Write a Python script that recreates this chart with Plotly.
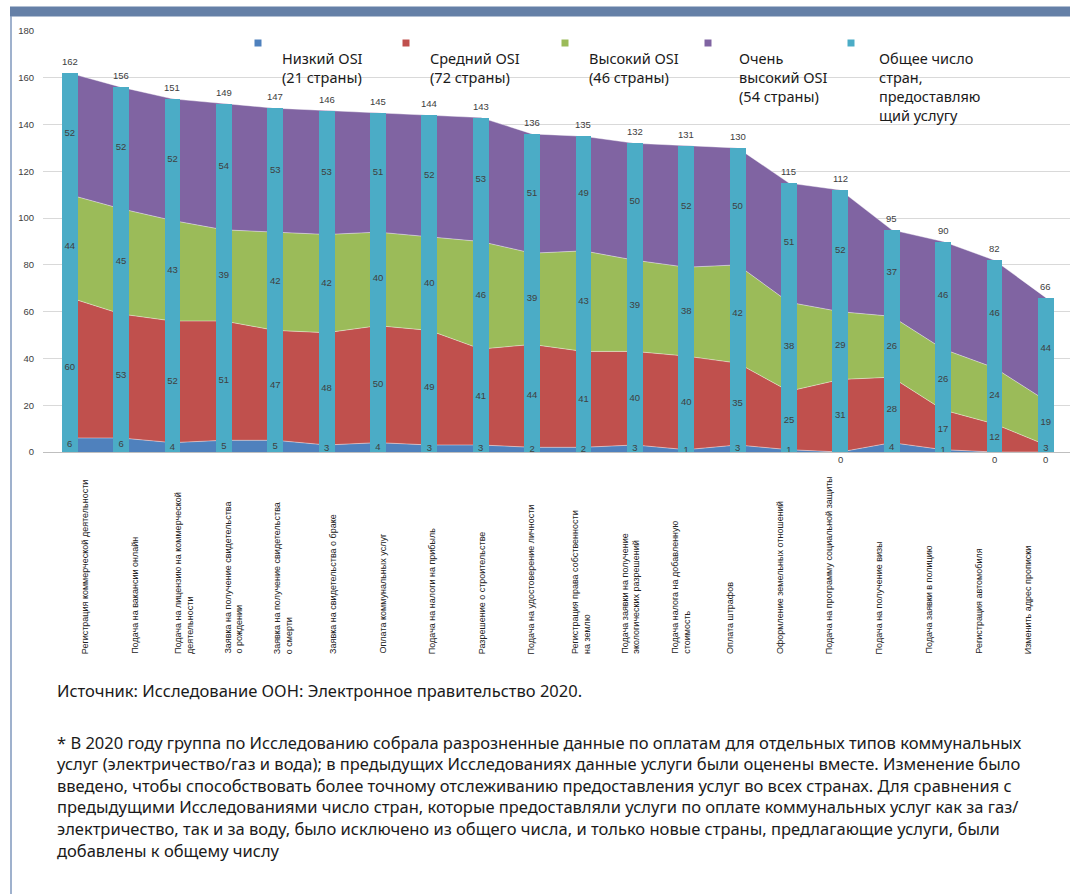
import plotly.graph_objects as go

categories = [
    "Регистрация коммерческой деятельности",
    "Подача на вакансии онлайн",
    "Подача на лицензию на коммерческой<br>деятельности",
    "Заявка на получение свидетельства<br>о рождении",
    "Заявка на получение свидетельства<br>о смерти",
    "Заявка на свидетельства о браке",
    "Оплата коммунальных услуг",
    "Подача на налоги на прибыль",
    "Разрешение о строительстве",
    "Подача на удостоверение личности",
    "Регистрация права собственности<br>на землю",
    "Подача заявки на получение<br>экологических разрешений",
    "Подача налога на добавленную<br>стоимость",
    "Оплата штрафов",
    "Оформление земельных отношений",
    "Подача на программу социальной защиты",
    "Подача на получение визы",
    "Подача заявки в полицию",
    "Регистрация автомобиля",
    "Изменить адрес прописки",
]
low_osi = [6, 6, 4, 5, 5, 3, 4, 3, 3, 2, 2, 3, 1, 3, 1, 0, 4, 1, 0, 0]
mid_osi = [60, 53, 52, 51, 47, 48, 50, 49, 41, 44, 41, 40, 40, 35, 25, 31, 28, 17, 12, 3]
high_osi = [44, 45, 43, 39, 42, 42, 40, 40, 46, 39, 43, 39, 38, 42, 38, 29, 26, 26, 24, 19]
very_high_osi = [52, 52, 52, 54, 53, 53, 51, 52, 53, 51, 49, 50, 52, 50, 51, 52, 37, 46, 46, 44]
total = [162, 156, 151, 149, 147, 146, 145, 144, 143, 136, 135, 132, 131, 130, 115, 112, 95, 90, 82, 66]

series_names = ["Низкий OSI<br>(21 страны)", "Средний OSI<br>(72 страны)",
                "Высокий OSI<br>(46 страны)", "Очень<br>высокий OSI<br>(54 страны)"]
total_name = "Общее число<br>стран,<br>предоставляю<br>щий услугу"
y_ticks = [0, 20, 40, 60, 80, 100, 120, 140, 160, 180]

colors = ["#4F81BD", "#C0504D", "#9BBB59", "#8064A2"]
total_color = "#4BACC6"

W, H = 1070, 894
L, R, T, B = 43, 1070, 31, 452


def py(p):
    return (B - p) / (B - T)


def pxp(p):
    return (p - L) / (R - L)


idx = list(range(len(categories)))
fig = go.Figure()

series = [low_osi, mid_osi, high_osi, very_high_osi]
for s, c, n in zip(series, colors, series_names):
    fig.add_trace(go.Scatter(
        x=idx, y=s, stackgroup="one", mode="lines",
        line=dict(width=0.6, color="rgba(255,255,255,0.7)"),
        fillcolor=c, name=n.replace("<br>", " "), showlegend=False, hoverinfo="skip"))

fig.add_trace(go.Bar(x=idx, y=total, width=0.31, marker=dict(color=total_color, line=dict(width=0)),
                     xaxis="x2", yaxis="y2", showlegend=False, name=total_name.replace("<br>", " ")))

lab_font = dict(family="Liberation Sans", size=9.5, color="#404040")

# segment labels (non-zero values centred in their segment)
lab_x, lab_y, lab_t = [], [], []
zero_x, zero_y = [], []
for i in idx:
    base = 0
    for s in series:
        v = s[i]
        if v == 0:
            zero_x.append(i)
            zero_y.append(base)
        else:
            lab_x.append(i)
            lab_y.append(base + v / 2)
            lab_t.append(str(v))
        base += v
fig.add_trace(go.Scatter(x=lab_x, y=lab_y, text=lab_t, mode="text", textposition="middle center",
                         textfont=lab_font,
                         xaxis="x2", yaxis="y2", showlegend=False, cliponaxis=False, hoverinfo="skip"))

annotations = []
for zx, zy in zip(zero_x, zero_y):
    annotations.append(dict(xref="x2", yref="y2", x=zx, y=zy, text="0", showarrow=False,
                            yanchor="top", yshift=0, font=lab_font))
for i, t in zip(idx, total):
    annotations.append(dict(xref="x2", yref="y2", x=i, y=t, text=str(t), showarrow=False,
                            yanchor="bottom", yshift=4, font=lab_font))

xr = [-0.52, 19.47]
fig.update_layout(
    width=W, height=H,
    margin=dict(l=L, r=W - R, t=T, b=H - B),
    paper_bgcolor="white", plot_bgcolor="white",
    showlegend=False,
    xaxis=dict(range=xr, showticklabels=False, showgrid=False, zeroline=False,
               showline=True, linecolor="#BFBFBF", linewidth=1, ticks=""),
    yaxis=dict(range=[0, 180], tickvals=y_ticks, showgrid=True, gridcolor="#D9D9D9", gridwidth=1,
               zeroline=False, showline=False, ticks="", ticklabelstandoff=8,
               tickfont=dict(family="Liberation Sans", size=9.5, color="#404040")),
    xaxis2=dict(range=xr, overlaying="x", visible=False),
    yaxis2=dict(range=[0, 180], overlaying="y", visible=False),
    bargap=0,
)

shapes = []
# frame: top band and left rule
shapes.append(dict(type="rect", xref="paper", yref="paper", x0=pxp(10), x1=pxp(1070),
                   y0=py(16.5), y1=py(6.5), fillcolor="#6580A7", line=dict(width=0), layer="above"))
shapes.append(dict(type="line", xref="paper", yref="paper", x0=pxp(11), x1=pxp(11),
                   y0=py(16), y1=py(894), line=dict(color="#7F97BD", width=1.5)))

# legend
leg_items = [
    (series_names[0], colors[0], 258, 280),
    (series_names[1], colors[1], 406, 428),
    (series_names[2], colors[2], 565, 587),
    (series_names[3], colors[3], 708, 737),
    (total_name, total_color, 851, 877),
]
for txt, c, sx, tx in leg_items:
    shapes.append(dict(type="rect", xref="paper", yref="paper", x0=pxp(sx - 3.5), x1=pxp(sx + 3.5),
                       y0=py(46.5), y1=py(39.5), fillcolor=c, line=dict(width=0)))
    annotations.append(dict(xref="paper", yref="paper", x=pxp(tx), y=py(46), xanchor="left",
                            yanchor="top", align="left", text=txt, showarrow=False,
                            font=dict(family="Noto Sans", size=14.5, color="#1a1a1a")))

# category labels (rotated)
for i, c in enumerate(categories):
    annotations.append(dict(xref="x", yref="paper", x=i, y=py(656), xanchor="center", yanchor="bottom",
                            textangle=-90, align="left", text=c, showarrow=False,
                            xshift=15 - 1.74 * i,
                            font=dict(family="Liberation Sans", size=9, color="#222222")))

# footer
foot_font = dict(family="Noto Sans", size=16.5, color="#1a1a1a")
annotations.append(dict(xref="paper", yref="paper", x=pxp(55), y=py(690), xanchor="left", yanchor="middle",
                        text="Источник: Исследование ООН: Электронное правительство 2020.", showarrow=False,
                        font=foot_font))
note_lines = [
    "* В 2020 году группа по Исследованию собрала разрозненные данные по оплатам для отдельных типов коммунальных",
    "услуг (электричество/газ и вода); в предыдущих Исследованиях данные услуги были оценены вместе. Изменение было",
    "введено, чтобы способствовать более точному отслеживанию предоставления услуг во всех странах. Для сравнения с",
    "предыдущими Исследованиями число стран, которые предоставляли услуги по оплате коммунальных услуг как за газ/",
    "электричество, так и за воду, было исключено из общего числа, и только новые страны, предлагающие услуги, были",
    "добавлены к общему числу",
]
for k, line in enumerate(note_lines):
    annotations.append(dict(xref="paper", yref="paper", x=pxp(55), y=py(742 + 21.6 * k), xanchor="left",
                            yanchor="middle", text=line, showarrow=False,
                            font=foot_font))

fig.update_layout(shapes=shapes, annotations=annotations)
fig.write_html("out.html", config={"displayModeBar": False},
               post_script="document.body.style.margin='0';document.body.style.overflow='hidden';")
